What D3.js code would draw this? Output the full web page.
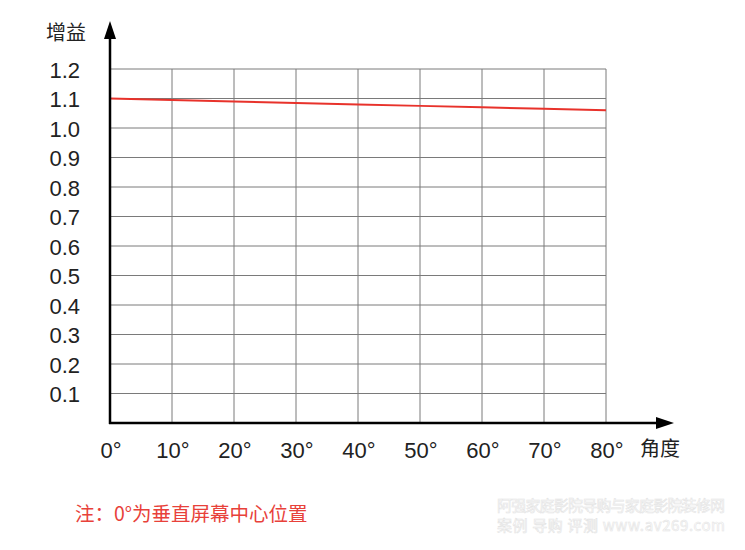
<!DOCTYPE html>
<html><head><meta charset="utf-8">
<script src="https://cdn.jsdelivr.net/npm/d3@7"></script>
<style>body{margin:0;background:#fff}svg{display:block}</style>
</head><body>
<script>
const angles = [0, 10, 20, 30, 40, 50, 60, 70, 80];
const gains = [1.10, 1.095, 1.09, 1.085, 1.08, 1.075, 1.07, 1.065, 1.06];
const yTicks = [0.1, 0.2, 0.3, 0.4, 0.5, 0.6, 0.7, 0.8, 0.9, 1.0, 1.1, 1.2];
const xTickLabels = ["0°","10°","20°","30°","40°","50°","60°","70°","80°"];
const yTitle = "增益", xTitle = "角度";
const note = "注：0°为垂直屏幕中心位置";
const watermark = ["阿强家庭影院导购与家庭影院装修网", "案例 导购 评测  www.av269.com"];

const W = 745, H = 550;
const cjk = "'Noto Sans CJK SC',sans-serif";
const num = "'Liberation Sans',Arial,Helvetica,sans-serif";
const svg = d3.select("body").append("svg").attr("width", W).attr("height", H);
const x = d3.scaleLinear().domain([0, 80]).range([110, 606]);
const y = d3.scaleLinear().domain([0, 1.2]).range([423, 69]);

// grid
svg.append("g").selectAll("line").data(yTicks).join("line")
  .attr("x1", x(0)).attr("x2", x(80)).attr("y1", d => y(d)).attr("y2", d => y(d))
  .attr("stroke", "#7a7a7a").attr("stroke-width", 1);
svg.append("g").selectAll("line").data(angles.slice(1)).join("line")
  .attr("x1", d => x(d)).attr("x2", d => x(d)).attr("y1", y(0)).attr("y2", y(1.2))
  .attr("stroke", "#7a7a7a").attr("stroke-width", 1);

// data line
svg.append("path").datum(angles.map((a, i) => [a, gains[i]]))
  .attr("fill", "none").attr("stroke", "#e8322b").attr("stroke-width", 2)
  .attr("d", d3.line().x(d => x(d[0])).y(d => y(d[1])));

// axes
svg.append("line").attr("x1", x(0)).attr("x2", x(0)).attr("y1", y(0) + 1).attr("y2", 36)
  .attr("stroke", "#000").attr("stroke-width", 2.5);
svg.append("path").attr("d", `M${x(0)},21 L${x(0) - 6},39 L${x(0) + 6},39 Z`).attr("fill", "#000");
svg.append("line").attr("x1", x(0) - 1).attr("x2", 660).attr("y1", y(0)).attr("y2", y(0))
  .attr("stroke", "#000").attr("stroke-width", 2.5);
svg.append("path").attr("d", `M674,${y(0)} L656,${y(0) - 6} L656,${y(0) + 6} Z`).attr("fill", "#000");

// y labels
svg.append("g").selectAll("text").data(yTicks).join("text")
  .attr("x", 80).attr("y", d => y(d) + 8.5).attr("text-anchor", "end")
  .attr("font-family", num).attr("font-size", 22).attr("fill", "#222")
  .text(d => d.toFixed(1));
// x labels
svg.append("g").selectAll("text").data(angles).join("text")
  .attr("x", (d) => x(d) + 1).attr("y", 458).attr("text-anchor", "middle")
  .attr("font-family", num).attr("font-size", 22).attr("fill", "#222")
  .text((d, i) => xTickLabels[i]);

svg.append("text").attr("x", 66).attr("y", 40).attr("text-anchor", "middle")
  .attr("font-family", cjk).attr("font-size", 20).attr("fill", "#222").text(yTitle);
svg.append("text").attr("x", 660).attr("y", 456).attr("text-anchor", "middle")
  .attr("font-family", cjk).attr("font-size", 20).attr("fill", "#222").text(xTitle);

svg.append("text").attr("x", 75).attr("y", 521)
  .attr("font-family", cjk).attr("font-size", 19.5).attr("fill", "#e8413a").text(note);

// watermark
svg.append("text").attr("x", 497).attr("y", 511).attr("textLength", 228)
  .attr("font-family", cjk).attr("font-size", 15).attr("fill", "none")
  .attr("stroke", "#e4e4e4").attr("stroke-width", 0.6).text(watermark[0]);
svg.append("text").attr("x", 497).attr("y", 531).attr("textLength", 228)
  .attr("font-family", cjk).attr("font-size", 15).attr("fill", "none")
  .attr("stroke", "#e4e4e4").attr("stroke-width", 0.6).text(watermark[1]);
</script>
</body></html>
